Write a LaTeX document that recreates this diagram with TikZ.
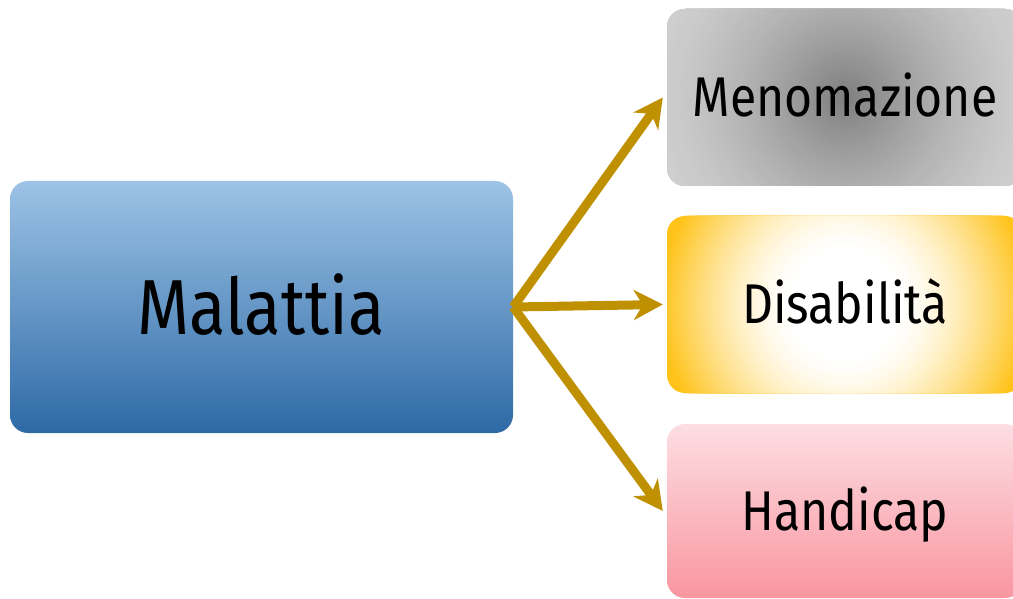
\documentclass[tikz,border=0pt]{standalone}
\usepackage{fontspec}
\setmainfont{Fira Sans}[FakeStretch=0.86]
\usetikzlibrary{arrows.meta}

\definecolor{arrowgold}{RGB}{191,144,0}
\definecolor{blueTop}{RGB}{157,195,230}
\definecolor{blueBot}{RGB}{46,106,166}
\definecolor{pinkTop}{RGB}{252,222,227}
\definecolor{pinkBot}{RGB}{250,150,160}
\definecolor{greyMid}{RGB}{125,125,125}
\definecolor{greyEdge}{RGB}{210,210,210}
\definecolor{goldEdge}{RGB}{255,195,26}

\tikzset{
  card/.style={rounded corners=18pt, inner sep=0pt, text=black,
    minimum width=356pt, minimum height=177pt,
    text height=38.6pt, text depth=0pt},
  % dark centre fading out to light grey, built from concentric discs
  greyglow/.style={path picture={
    \fill[greyEdge] (path picture bounding box.south west)
      rectangle (path picture bounding box.north east);
    \foreach \k in {60,...,1}{
      \pgfmathsetmacro\rad{220*\k/60}
      \pgfmathsetmacro\pct{100*(1-\k/60)^1.6}
      \fill[greyMid!\pct!greyEdge] (path picture bounding box.center)
        circle[radius=\rad pt];
    }}},
  % white centre fading out to golden yellow
  sunglow/.style={path picture={
    \fill[goldEdge] (path picture bounding box.south west)
      rectangle (path picture bounding box.north east);
    \foreach \k in {60,...,1}{
      \pgfmathsetmacro\rad{55+130*\k/60}
      \pgfmathsetmacro\pct{100*(\k/60)^1.5}
      \fill[goldEdge!\pct!white] (path picture bounding box.center)
        circle[radius=\rad pt];
    }
    \fill[white] (path picture bounding box.center) circle[radius=55pt];}},
  link/.style={draw=arrowgold, line width=9pt,
    -{Stealth[length=29pt, width=30pt, inset=9pt]}},
}

\begin{document}
\begin{tikzpicture}[x=1pt, y=-1pt]
  \useasboundingbox (0,0) rectangle (1013,599);
  \clip (0,0) rectangle (1013,599);

  \node[card, minimum width=503pt, minimum height=252pt,
        text height=54pt, top color=blueTop, bottom color=blueBot,
        font=\fontsize{78}{80}\selectfont] (mal) at (261.5,307) {Malattia};

  \node[card, greyglow, font=\fontsize{56}{60}\selectfont]
    (men) at (845,97.5) {Menomazione};
  \node[card, sunglow, font=\fontsize{56}{60}\selectfont]
    (dis) at (845,304.5) {Disabilità};
  \node[card, minimum height=174pt, top color=pinkTop, bottom color=pinkBot,
        font=\fontsize{56}{60}\selectfont] (han) at (845,511) {Handicap};

  \draw[link] (mal.east) -- ([xshift=-4pt]men.west);
  \draw[link] (mal.east) -- ([xshift=-4pt]dis.west);
  \draw[link] (mal.east) -- ([xshift=-4pt]han.west);
\end{tikzpicture}
\end{document}
